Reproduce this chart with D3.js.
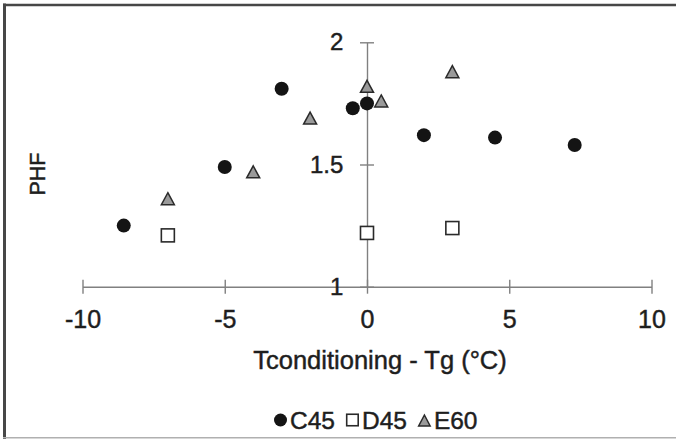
<!DOCTYPE html>
<html>
<head>
<meta charset="utf-8">
<script src="https://cdn.jsdelivr.net/npm/d3@7"></script>
<style>
  html, body { margin: 0; padding: 0; background: #fff; }
  svg { display: block; }
  text { font-family: "Liberation Sans", Arial, Helvetica, sans-serif; fill: #1e1e1e; stroke: #1e1e1e; stroke-width: 0.45px; }
</style>
</head>
<body>
<svg id="chart" width="676" height="439"></svg>
<script>
// PHF against conditioning temperature offset from Tg
const c45X = [-8.55, -5, -3, -0.5, 0, 2, 4.5, 7.3];
const c45Y = [1.25, 1.49, 1.81, 1.73, 1.75, 1.62, 1.61, 1.58];
const d45X = [-7, 0, 3];
const d45Y = [1.21, 1.22, 1.24];
const e60X = [-7, -4, -2, 0, 0.5, 3];
const e60Y = [1.36, 1.47, 1.69, 1.82, 1.76, 1.88];

const xTicks = [-10, -5, 0, 5, 10];
const yTicks = [1, 1.5, 2];
const seriesNames = ["C45", "D45", "E60"];

const svg = d3.select("#chart");
const W = 676, H = 439;

const x = d3.scaleLinear().domain([-10, 10]).range([82.5, 651.5]);
const y = d3.scaleLinear().domain([1, 2]).range([286.7, 42.3]);

// outer frame
svg.append("line").attr("x1", 4.5).attr("x2", 4.5).attr("y1", 3.5).attr("y2", H)
  .attr("stroke", "#474747").attr("stroke-width", 3);
svg.append("line").attr("x1", 3).attr("x2", W).attr("y1", 5).attr("y2", 5)
  .attr("stroke", "#474747").attr("stroke-width", 2.5);
svg.append("line").attr("x1", 3).attr("x2", W).attr("y1", 437.8).attr("y2", 437.8)
  .attr("stroke", "#b0b0b0").attr("stroke-width", 1.5);

const axisColor = "#808080";
const fontStack = '"Liberation Sans", Arial, sans-serif';

// x axis through y = 1, ticks crossing the line
const gx = svg.append("g")
  .attr("transform", `translate(0,${y(1)})`)
  .call(d3.axisBottom(x).tickValues(xTicks).tickSize(7).tickSizeOuter(0).tickPadding(16.5)
    .tickFormat(d => String(d)));
gx.select(".domain").attr("stroke", axisColor).attr("stroke-width", 1.4);
gx.selectAll(".tick line").attr("y1", -7).attr("stroke", axisColor).attr("stroke-width", 1.4);
gx.selectAll(".tick text").attr("font-size", 25).attr("fill", "#1e1e1e")
  .style("font-family", fontStack);

// y axis through x = 0
const gy = svg.append("g")
  .attr("transform", `translate(${x(0)},0)`)
  .call(d3.axisLeft(y).tickValues(yTicks).tickSize(7).tickSizeOuter(0).tickPadding(16.7)
    .tickFormat(d => String(d)));
gy.select(".domain").attr("stroke", axisColor).attr("stroke-width", 1.4);
gy.selectAll(".tick line").attr("x1", 7).attr("stroke", axisColor).attr("stroke-width", 1.4);
gy.selectAll(".tick text").attr("font-size", 24).attr("fill", "#1e1e1e")
  .style("font-family", fontStack);

// axis titles
svg.append("text")
  .attr("x", 380).attr("y", 368.5)
  .attr("text-anchor", "middle")
  .attr("font-size", 25.5)
  .text("Tconditioning - Tg (°C)");

svg.append("text")
  .attr("transform", "translate(45,174) rotate(-90)")
  .attr("text-anchor", "middle")
  .attr("font-size", 21.5)
  .text("PHF");

// marker shapes
const triPath = (w, h) => `M0,${-h / 2}L${w / 2},${h / 2}L${-w / 2},${h / 2}Z`;

function drawCircle(g, cx, cy, r) {
  g.append("circle").attr("cx", cx).attr("cy", cy).attr("r", r).attr("fill", "#141414");
}
function drawSquare(g, cx, cy, s) {
  g.append("rect").attr("x", cx - s / 2).attr("y", cy - s / 2).attr("width", s).attr("height", s)
    .attr("fill", "#fff").attr("stroke", "#2a2a2a").attr("stroke-width", 1.6);
}
function drawTriangle(g, cx, cy, w, h) {
  g.append("path").attr("d", triPath(w, h)).attr("transform", `translate(${cx},${cy})`)
    .attr("fill", "#9a9a9a").attr("stroke", "#2a2a2a").attr("stroke-width", 1.5);
}

const marks = svg.append("g");
d3.zip(d45X, d45Y).forEach(([a, b]) => drawSquare(marks, x(a), y(b), 13));
d3.zip(e60X, e60Y).forEach(([a, b]) => drawTriangle(marks, x(a), y(b), 13, 12));
d3.zip(c45X, c45Y).forEach(([a, b]) => drawCircle(marks, x(a), y(b), 7));

// legend: marker, label, then gap before the next entry
const leg = svg.append("g");
const legY = 420;
let cursor = 274;
seriesNames.forEach((name, i) => {
  const cx = cursor + 6.5;
  if (i === 0) drawCircle(leg, cx, legY, 6.5);
  if (i === 1) drawSquare(leg, cx, legY, 11.5);
  if (i === 2) drawTriangle(leg, cx, legY + 0.5, 11.5, 11);
  const t = leg.append("text")
    .attr("x", cursor + 16).attr("y", 428.5)
    .attr("font-size", 24.5)
    .text(name);
  cursor += 16 + t.node().getComputedTextLength() + 11;
});
</script>
</body>
</html>
